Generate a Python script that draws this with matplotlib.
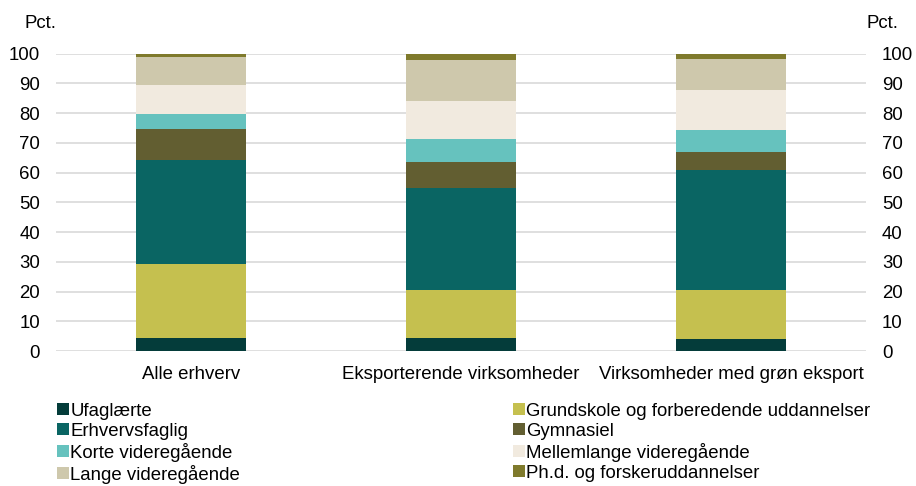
import numpy as np
import matplotlib.pyplot as plt
from matplotlib.patches import Patch

plt.rcParams['font.family'] = ['Liberation Sans', 'DejaVu Sans']

kategorier = ['Alle erhverv', 'Eksporterende virksomheder', 'Virksomheder med grøn eksport']
serier = ['Ufaglærte', 'Grundskole og forberedende uddannelser', 'Erhvervsfaglig', 'Gymnasiel',
          'Korte videregående', 'Mellemlange videregående', 'Lange videregående',
          'Ph.d. og forskeruddannelser']
farver = ['#043C3A', '#C5C04F', '#0A6563', '#625E31', '#66C2BE', '#F1EADF', '#CEC8AC', '#7F7A2C']

ufaglaerte = [4.5, 4.5, 3.9]
grundskole = [24.7, 16.1, 16.6]
erhvervsfaglig = [35.1, 34.3, 40.2]
gymnasiel = [10.4, 8.7, 6.3]
korte = [5.1, 7.5, 7.2]
mellemlange = [9.7, 12.8, 13.6]
lange = [9.4, 13.9, 10.5]
phd = [1.1, 2.2, 1.7]
vaerdier = [ufaglaerte, grundskole, erhvervsfaglig, gymnasiel, korte, mellemlange, lange, phd]

fs = 13.4
fig = plt.figure(figsize=(9.16, 4.86), dpi=100)
ax = fig.add_axes([56/916, 1 - 351/486, 810/916, (351 - 53.5)/486])

x = np.arange(len(kategorier))
bund = np.zeros(len(kategorier))
for navn, v, f in zip(serier, vaerdier, farver):
    ax.bar(x, v, 0.41, bottom=bund, color=f, label=navn, zorder=2)
    bund += np.array(v)

ax.set_xlim(-0.5, 2.5)
ax.set_ylim(0, 100)
ax.set_yticks(range(0, 101, 10))
ax.set_xticks(x)
ax.set_xticklabels(kategorier, fontsize=fs)
ax.grid(axis='y', color='#D9D9D9', linewidth=1.2, zorder=0)
ax.tick_params(axis='both', length=0, labelsize=fs)
ax.tick_params(axis='y', pad=11.5)
ax.tick_params(axis='x', pad=11)
for s in ax.spines.values():
    s.set_visible(False)

ax2 = ax.twinx()
ax2.set_ylim(0, 100)
ax2.set_yticks(range(0, 101, 10))
ax2.tick_params(axis='y', length=0, labelsize=fs, pad=11.5)
for s in ax2.spines.values():
    s.set_visible(False)

fig.text(25/916, 1 - 24/486, 'Pct.', fontsize=fs, va='center', ha='left')
fig.text(867/916, 1 - 24/486, 'Pct.', fontsize=fs, va='center', ha='left')

handles = [Patch(facecolor=f, label=n) for n, f in zip(serier, farver)]
for col, xpos in [(0, 57/916), (1, 513/916)]:
    leg = fig.legend(handles=handles[col::2], loc='upper left', bbox_to_anchor=(xpos, 1 - 403/486),
                     frameon=False, fontsize=fs, handlelength=0.62, handleheight=0.62,
                     handletextpad=0.1, labelspacing=0.16, borderpad=0, borderaxespad=0)

fig.savefig('out.png', dpi=100)
